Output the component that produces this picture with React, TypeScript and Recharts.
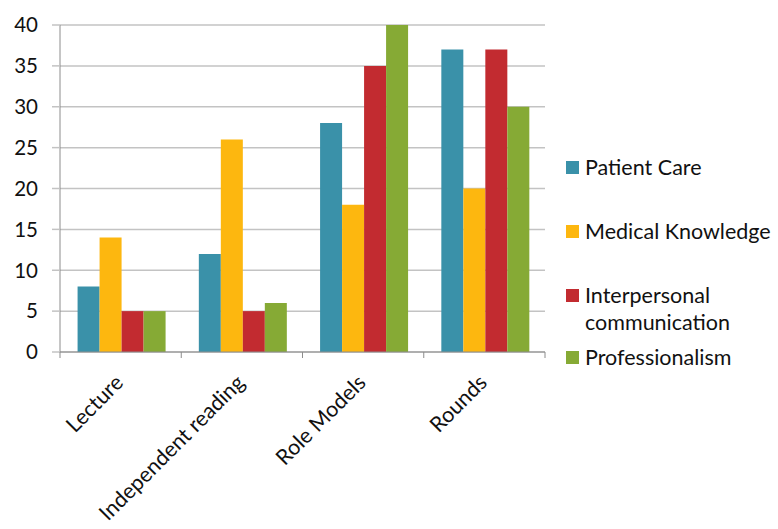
import React from "react";
import {
  BarChart,
  Bar,
  XAxis,
  YAxis,
  CartesianGrid,
  Legend,
} from "recharts";

const categories = ["Lecture", "Independent reading", "Role Models", "Rounds"];
const patientCare = [8, 12, 28, 37];
const medicalKnowledge = [14, 26, 18, 20];
const interpersonal = [5, 5, 35, 37];
const professionalism = [5, 6, 40, 30];
const yTicks = [0, 5, 10, 15, 20, 25, 30, 35, 40];

const SERIES = [
  { key: "patientCare", name: "Patient Care", color: "#3a91a9", values: patientCare },
  { key: "medicalKnowledge", name: "Medical Knowledge", color: "#fdb70f", values: medicalKnowledge },
  { key: "interpersonal", name: "Interpersonal communication", color: "#c22b30", values: interpersonal },
  { key: "professionalism", name: "Professionalism", color: "#86aa35", values: professionalism },
];

const data = categories.map((category, i) => {
  const row: any = { category };
  SERIES.forEach((s) => (row[s.key] = s.values[i]));
  return row;
});

const FONT = "Lato, 'DejaVu Sans', sans-serif";
const AXIS = "#8c8c8c";

// tick marks sit on the category boundaries, label is rotated under the centre
function CategoryTick({ x, y, payload, index, visibleTicksCount }: any) {
  const half = payload.offset || 60;
  const tx = x + 4;
  const ty = y + 32;
  return (
    <g>
      <line x1={x - half} x2={x - half} y1={y} y2={y + 6} stroke={AXIS} />
      {index === visibleTicksCount - 1 && (
        <line x1={x + half} x2={x + half} y1={y} y2={y + 6} stroke={AXIS} />
      )}
      <text
        x={tx}
        y={ty}
        textAnchor="end"
        transform={`rotate(-45, ${tx}, ${ty})`}
        fontFamily={FONT}
        fontSize={21.5}
        fill="#111"
      >
        {payload.value}
      </text>
    </g>
  );
}

function SideLegend() {
  const gaps = [37, 37, 8, 0];
  return (
    <div style={{ width: 212, fontFamily: FONT, fontSize: 21.5, color: "#111", textAlign: "left" }}>
      {SERIES.map((s, i) => (
        <div key={s.key} style={{ display: "flex", alignItems: "flex-start", marginBottom: gaps[i], lineHeight: "27px" }}>
          <span
            style={{
              width: 13,
              height: 13,
              background: s.color,
              marginTop: 7,
              marginRight: 6,
              flexShrink: 0,
            }}
          />
          <span style={{ width: 192 }}>{s.name}</span>
        </div>
      ))}
    </div>
  );
}

export default function App() {
  return (
    <div style={{ position: "absolute", left: 0, top: 0, width: 778, height: 529, background: "#fff" }}>
      <BarChart
        width={778}
        height={529}
        data={data}
        margin={{ top: 25, right: 233, left: 0, bottom: 0 }}
        barCategoryGap="14.5%"
        barGap={0}
      >
        <CartesianGrid horizontal vertical={false} stroke="#c3c3c3" strokeWidth={1.5} />
        <XAxis
          dataKey="category"
          interval={0}
          height={177}
          tickSize={0}
          tickMargin={0}
          tickLine={false}
          axisLine={{ stroke: AXIS }}
          tick={<CategoryTick />}
        />
        <YAxis
          domain={[0, 40]}
          ticks={yTicks}
          width={60}
          tickSize={8}
          tickMargin={14}
          axisLine={{ stroke: AXIS }}
          tickLine={{ stroke: "#c3c3c3", strokeWidth: 1.5 }}
          tick={{ fontFamily: FONT, fontSize: 20.5, fill: "#111" }}
        />
        <Legend
          layout="vertical"
          verticalAlign="middle"
          align="center"
          content={<SideLegend />}
          wrapperStyle={{ position: "absolute", left: 566, top: 154, width: 212 }}
        />
        {SERIES.map((s) => (
          <Bar key={s.key} dataKey={s.key} name={s.name} fill={s.color} isAnimationActive={false} />
        ))}
      </BarChart>
    </div>
  );
}
